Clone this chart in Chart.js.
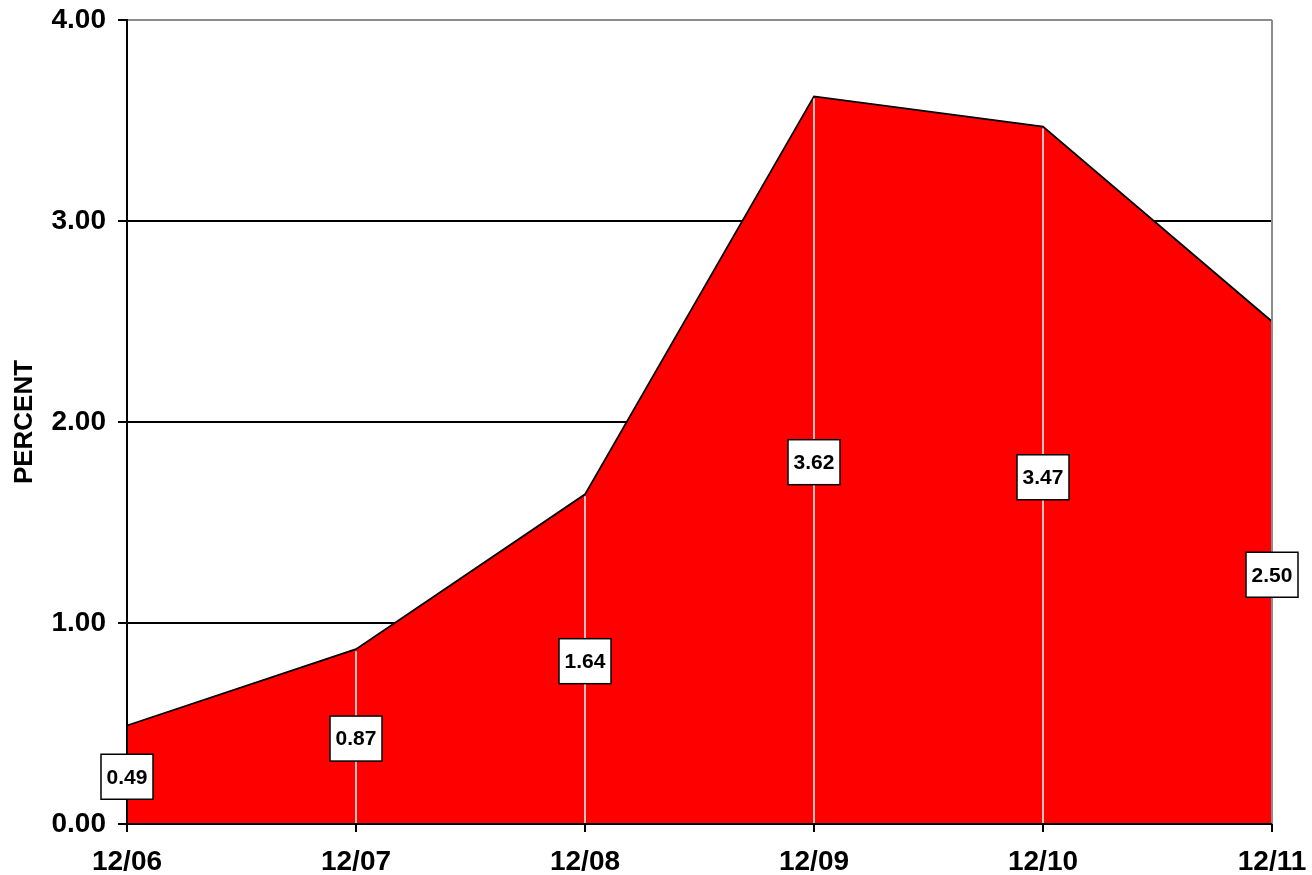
<!DOCTYPE html>
<html>
<head>
<meta charset="utf-8">
<script src="https://cdn.jsdelivr.net/npm/chart.js@4/dist/chart.umd.min.js"></script>
<style>
  html, body { margin: 0; padding: 0; background: #fff; }
  #wrap { width: 1312px; height: 875px; }
</style>
</head>
<body>
<div id="wrap"><canvas id="c"></canvas></div>
<script>
const categories = ['12/06', '12/07', '12/08', '12/09', '12/10', '12/11'];
const percentValues = [0.49, 0.87, 1.64, 3.62, 3.47, 2.50];
const yTicks = [0, 1, 2, 3, 4];
const yTitle = 'PERCENT';

const FONT = 'Arial, "Liberation Sans", Helvetica, sans-serif';

function zeroPad(scale) {
  scale.paddingTop = 0; scale.paddingBottom = 0;
  scale.paddingLeft = 0; scale.paddingRight = 0;
}

const overlayPlugin = {
  id: 'overlay',
  afterDatasetsDraw(chart) {
    const ctx = chart.ctx;
    const xs = chart.scales.x, ys = chart.scales.y;
    const ca = chart.chartArea;
    const data = chart.data.datasets[0].data;
    ctx.save();
    ctx.strokeStyle = '#ffffff';
    ctx.lineWidth = 1.5;
    data.forEach((v, i) => {
      const x = xs.getPixelForValue(i);
      ctx.beginPath();
      ctx.moveTo(x, ys.getPixelForValue(0));
      ctx.lineTo(x, ys.getPixelForValue(v) + 2);
      ctx.stroke();
    });
    ctx.strokeStyle = '#8c8c8c';
    ctx.lineWidth = 2;
    ctx.beginPath();
    ctx.moveTo(ca.right, ca.top);
    ctx.lineTo(ca.right, ca.bottom);
    ctx.stroke();
    ctx.strokeStyle = '#000000';
    ctx.lineWidth = 2;
    ctx.beginPath();
    ctx.moveTo(ca.left, ca.top);
    ctx.lineTo(ca.left, ca.bottom);
    ctx.lineTo(ca.right, ca.bottom);
    ctx.stroke();
    ctx.font = 'bold 21px ' + FONT;
    ctx.textAlign = 'center';
    ctx.textBaseline = 'middle';
    data.forEach((v, i) => {
      const x = xs.getPixelForValue(i);
      const y = ys.getPixelForValue(v / 2) + 2;
      const w = 52, h = 45;
      ctx.fillStyle = '#ffffff';
      ctx.fillRect(x - w / 2, y - h / 2, w, h);
      ctx.strokeStyle = '#000000';
      ctx.lineWidth = 1.5;
      ctx.strokeRect(x - w / 2, y - h / 2, w, h);
      ctx.fillStyle = '#000000';
      ctx.fillText(v.toFixed(2), x, y + 1);
    });
    ctx.restore();
  }
};

new Chart(document.getElementById('c'), {
  type: 'line',
  data: {
    labels: categories,
    datasets: [{
      data: percentValues,
      fill: 'origin',
      backgroundColor: '#ff0000',
      borderColor: '#000000',
      borderWidth: 1.8,
      pointRadius: 0,
      tension: 0
    }]
  },
  options: {
    responsive: true,
    maintainAspectRatio: false,
    animation: false,
    devicePixelRatio: 1,
    layout: { padding: { top: 20, right: 40, left: 0, bottom: 0 } },
    plugins: { legend: { display: false }, tooltip: { enabled: false } },
    scales: {
      x: {
        offset: false,
        grid: { drawOnChartArea: false, drawTicks: true, tickLength: 8, tickColor: '#000', color: '#000', lineWidth: 2 },
        border: { display: true, color: '#000', width: 2 },
        ticks: { color: '#000', font: { family: FONT, size: 28, weight: 'bold' }, padding: 13, maxRotation: 0, autoSkip: false },
        afterFit(scale) { scale.height = 51; zeroPad(scale); }
      },
      y: {
        min: 0, max: 4,
        afterBuildTicks(scale) { scale.ticks = yTicks.map(v => ({ value: v })); },
        grid: {
          drawTicks: true, tickLength: 9, tickColor: '#000',
          color: c => (c.tick && c.tick.value === 4) ? '#8c8c8c' : '#000',
          lineWidth: 2
        },
        border: { display: true, color: '#000', width: 2 },
        ticks: {
          color: '#000', font: { family: FONT, size: 28, weight: 'bold' }, padding: 12,
          callback: v => Number(v).toFixed(2)
        },
        title: {
          display: true, text: yTitle, color: '#000',
          font: { family: FONT, size: 26, weight: 'bold' },
          padding: { top: 9, bottom: 0 }
        },
        afterFit(scale) { scale.width = 127; zeroPad(scale); }
      }
    }
  },
  plugins: [overlayPlugin]
});
</script>
</body>
</html>
